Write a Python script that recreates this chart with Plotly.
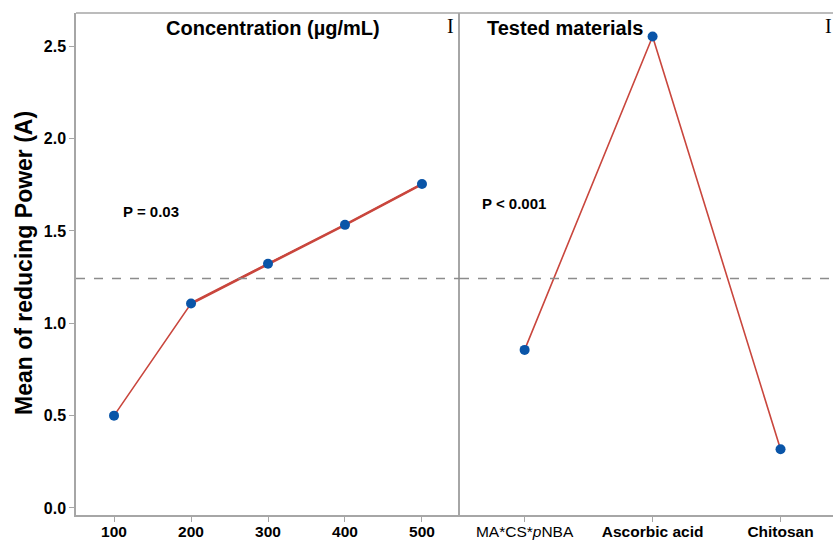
import plotly.graph_objects as go

# ---- data ----
concentration = [100, 200, 300, 400, 500]
conc_means = [0.50, 1.107, 1.322, 1.533, 1.754]
materials = ["MA*CS*pNBA", "Ascorbic acid", "Chitosan"]
material_labels = ["MA*CS*<i>p</i>NBA", "<b>Ascorbic acid</b>", "<b>Chitosan</b>"]
material_means = [0.856, 2.553, 0.318]
grand_mean = 1.242
y_ticks = [0.0, 0.5, 1.0, 1.5, 2.0, 2.5]
y_ticklabels = ["<b>%.1f</b>" % v for v in y_ticks]
conc_ticklabels = ["<b>%d</b>" % v for v in concentration]

LINE = "#c9463d"
DOT = "#0a55a8"
AX = "#a6a6a6"
FONT = "Liberation Sans, Arial, sans-serif"
SERIF = "Liberation Serif, Times New Roman, serif"

W, H = 833, 541
L, R, T, B = 76, 0, 13, 26
split = 384 / (W - L - R)

fig = go.Figure()

fig.add_trace(go.Scatter(x=concentration, y=conc_means, mode="lines",
                         line=dict(color=LINE, width=1.6), xaxis="x", yaxis="y",
                         showlegend=False, hoverinfo="skip"))
fig.add_trace(go.Scatter(x=concentration[1:], y=conc_means[1:], mode="lines",
                         line=dict(color=LINE, width=2.6), xaxis="x", yaxis="y",
                         showlegend=False, hoverinfo="skip"))
fig.add_trace(go.Scatter(x=concentration, y=conc_means, mode="markers",
                         marker=dict(color=DOT, size=10), xaxis="x", yaxis="y",
                         showlegend=False))
fig.add_trace(go.Scatter(x=list(range(len(materials))), y=material_means,
                         mode="lines+markers", line=dict(color=LINE, width=1.6),
                         marker=dict(color=DOT, size=10), xaxis="x2", yaxis="y2",
                         showlegend=False, text=materials))

yr = [-0.038, 2.68]
tickfont = dict(size=16, family=FONT, color="black")
xtickfont = dict(size=15.5, family=FONT, color="black")
fig.update_layout(
    width=W, height=H,
    margin=dict(l=L, r=R, t=T, b=B, autoexpand=False),
    paper_bgcolor="white", plot_bgcolor="white",
    font=dict(family=FONT, color="black", size=14),
    xaxis=dict(domain=[0, split], range=[50.6, 549.4], tickvals=concentration,
               ticktext=conc_ticklabels, showgrid=False, zeroline=False,
               showline=True, linecolor=AX, linewidth=1.5,
               ticks="outside", ticklen=5, tickcolor=AX, tickfont=xtickfont,
               ticklabelstandoff=-3),
    yaxis=dict(range=yr, tickvals=y_ticks, ticktext=y_ticklabels,
               showgrid=False, zeroline=False, showline=True, linecolor=AX,
               linewidth=1.5, ticks="outside", ticklen=5, tickcolor=AX,
               tickfont=tickfont),
    xaxis2=dict(domain=[split, 1], range=[-0.505, 2.41],
                tickvals=list(range(len(materials))), ticktext=material_labels,
                showgrid=False, zeroline=False, showline=True, linecolor=AX,
                linewidth=1.5, ticks="outside", ticklen=5, tickcolor=AX,
                tickfont=xtickfont, ticklabelstandoff=-3, anchor="y2"),
    yaxis2=dict(range=yr, anchor="x2", showticklabels=False, showgrid=False,
                zeroline=False, showline=True, linecolor=AX, linewidth=1.5,
                ticks=""),
)

# top border
fig.add_shape(type="line", xref="paper", yref="paper", x0=0, x1=1, y0=1, y1=1,
              line=dict(color=AX, width=1.5))
# grand mean reference lines
for xr, yref in (("x", "y"), ("x2", "y2")):
    fig.add_shape(type="line", xref=f"{xr} domain", yref=yref, x0=0, x1=1,
                  y0=grand_mean, y1=grand_mean,
                  line=dict(color="#8c8c8c", width=1.5, dash="dash"))

PH = 502  # plot height in px
# y title
fig.add_annotation(text="<b>Mean of reducing Power (A)</b>", xref="paper", yref="paper",
                   x=0, xshift=-52, xanchor="center", y=(515 - 263) / PH,
                   yanchor="middle", textangle=-90, showarrow=False,
                   font=dict(size=23, family=FONT, color="black"))
# panel titles
fig.add_annotation(text="<b>Concentration (µg/mL)</b>", xref="x domain", yref="paper",
                   x=0.513, xanchor="center", y=1, yanchor="middle", yshift=-15,
                   showarrow=False, font=dict(size=20, family=FONT, color="black"))
fig.add_annotation(text="<b>Tested materials</b>", xref="x2 domain", yref="paper",
                   x=0.2815, xanchor="center", y=1, yanchor="middle", yshift=-15,
                   showarrow=False, font=dict(size=20, family=FONT, color="black"))
# I glyphs
fig.add_annotation(text="I", xref="x domain", yref="paper", x=1, xshift=-10,
                   xanchor="center", y=1, yanchor="middle", yshift=-13,
                   showarrow=False, font=dict(size=20, family=SERIF, color="black"))
fig.add_annotation(text="I", xref="x2 domain", yref="paper", x=1, xshift=-5,
                   xanchor="center", y=1, yanchor="middle", yshift=-13,
                   showarrow=False, font=dict(size=20, family=SERIF, color="black"))
# P values
fig.add_annotation(text="<b>P = 0.03</b>", xref="paper", yref="paper",
                   x=0, xshift=75, xanchor="center", y=(515 - 211) / PH,
                   yanchor="middle", showarrow=False,
                   font=dict(size=15, family=FONT, color="black"))
fig.add_annotation(text="<b>P < 0.001</b>", xref="x2 domain", yref="paper",
                   x=0, xshift=54, xanchor="center", y=(515 - 203) / PH,
                   yanchor="middle", showarrow=False,
                   font=dict(size=15, family=FONT, color="black"))

fig.write_html(
    "out.html",
    config={"displayModeBar": False},
    post_script="document.body.style.margin='0';document.body.style.overflow='hidden';",
)
